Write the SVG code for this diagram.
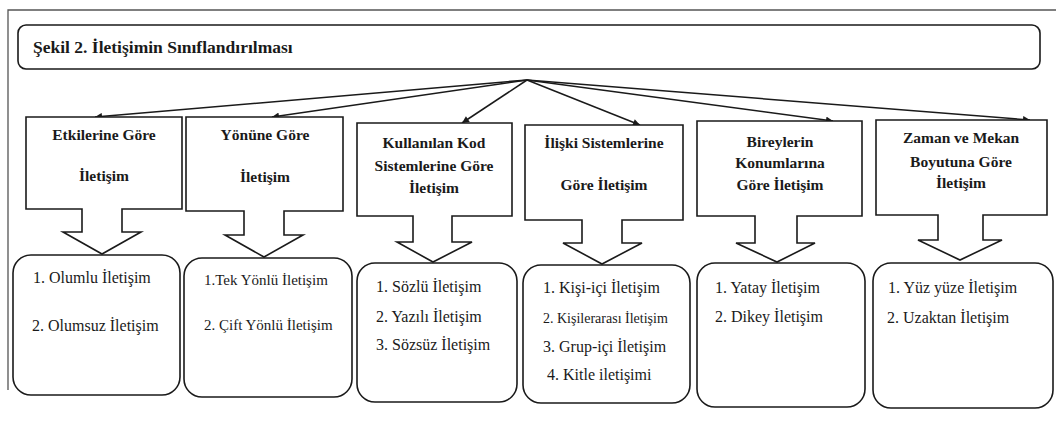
<svg xmlns="http://www.w3.org/2000/svg" width="1056" height="445" viewBox="0 0 1056 445">
<defs>
<marker id="ah" viewBox="0 0 10 10" refX="10" refY="5" markerWidth="9" markerHeight="7" markerUnits="userSpaceOnUse" orient="auto">
<path d="M0,0 L10,5 L0,10 Z" fill="#1a1a1a"/>
</marker>
<style>
.frame{fill:none;stroke:#555;stroke-width:1.3}
.box{fill:#fff;stroke:#1a1a1a;stroke-width:1.6;stroke-linejoin:miter}
.rbox{fill:#fff;stroke:#1a1a1a;stroke-width:1.6}
.conn{fill:none;stroke:#1a1a1a;stroke-width:1.5}
.h{font-family:"Liberation Serif","Times New Roman",serif;font-weight:bold;font-size:15.5px;fill:#1a1a1a;text-anchor:middle}
.t{font-family:"Liberation Serif","Times New Roman",serif;font-size:16px;fill:#1a1a1a}
.title{font-family:"Liberation Serif","Times New Roman",serif;font-weight:bold;font-size:17.5px;fill:#1a1a1a}
</style>
</defs>
<rect width="1056" height="445" fill="#fff"/>
<path class="frame" d="M1056,10 H8 V390"/>

<g id="title">
<rect class="rbox" x="18" y="25" width="1022" height="44" rx="8"/>
<text class="title" x="33" y="53">Şekil 2. İletişimin Sınıflandırılması</text>
</g>

<g id="connectors">
<line class="conn" x1="527" y1="80" x2="95" y2="117" marker-end="url(#ah)"/>
<line class="conn" x1="527" y1="80" x2="272" y2="117" marker-end="url(#ah)"/>
<line class="conn" x1="527" y1="80" x2="462" y2="123" marker-end="url(#ah)"/>
<line class="conn" x1="527" y1="80" x2="640" y2="125" marker-end="url(#ah)"/>
<line class="conn" x1="527" y1="80" x2="833" y2="121" marker-end="url(#ah)"/>
<line class="conn" x1="527" y1="80" x2="1030" y2="120" marker-end="url(#ah)"/>
</g>

<g id="n1">
<path class="box" d="M26,117 H182 V209 H122 V232 H141 L102,254 L63,232 H82 V209 H26 Z"/>
<text class="h" x="104" y="140">Etkilerine Göre</text>
<text class="h" x="104" y="181">İletişim</text>
</g>
<g id="n2">
<path class="box" d="M186,117 H343 V211 H284 V235 H303 L264,257 L225,235 H244 V211 H186 Z"/>
<text class="h" x="265" y="140">Yönüne Göre</text>
<text class="h" x="265" y="182">İletişim</text>
</g>
<g id="n3">
<path class="box" d="M357,123 H512 V216 H452 V242 H472 L433,262 L397,242 H413 V216 H357 Z"/>
<text class="h" x="434" y="148">Kullanılan Kod</text>
<text class="h" x="434" y="171">Sistemlerine Göre</text>
<text class="h" x="434" y="193">İletişim</text>
</g>
<g id="n4">
<path class="box" d="M525,125 H683 V220 H622 V243 H642 L602,264 L563,243 H582 V220 H525 Z"/>
<text class="h" x="604" y="148">İlişki Sistemlerine</text>
<text class="h" x="604" y="190">Göre İletişim</text>
</g>
<g id="n5">
<path class="box" d="M697,121 H862 V216 H797 V243 H815 L777,262 L736,243 H755 V216 H697 Z"/>
<text class="h" x="780" y="147">Bireylerin</text>
<text class="h" x="780" y="168">Konumlarına</text>
<text class="h" x="780" y="190">Göre İletişim</text>
</g>
<g id="n6">
<path class="box" d="M876,120 H1047 V215 H983 V240 H1002 L960,260 L918,240 H938 V215 H876 Z"/>
<text class="h" x="961" y="143">Zaman ve Mekan</text>
<text class="h" x="961" y="167">Boyutuna Göre</text>
<text class="h" x="961" y="188">İletişim</text>
</g>

<g id="b1">
<rect class="rbox" x="13" y="255" width="167" height="140" rx="18"/>
<text class="t" x="33" y="283">1. Olumlu İletişim</text>
<text class="t" x="32" y="331">2. Olumsuz İletişim</text>
</g>
<g id="b2">
<rect class="rbox" x="184" y="258" width="168" height="139" rx="18"/>
<text class="t" x="204" y="285" style="font-size:15px">1.Tek Yönlü  İletişim</text>
<text class="t" x="204" y="330" style="font-size:15px">2. Çift Yönlü İletişim</text>
</g>
<g id="b3">
<rect class="rbox" x="357" y="263" width="160" height="139" rx="18"/>
<text class="t" x="376" y="292">1. Sözlü İletişim</text>
<text class="t" x="376" y="322">2. Yazılı İletişim</text>
<text class="t" x="376" y="350">3. Sözsüz İletişim</text>
</g>
<g id="b4">
<rect class="rbox" x="523" y="265" width="167" height="138" rx="18"/>
<text class="t" x="543" y="293">1. Kişi-içi İletişim</text>
<text class="t" x="543" y="323" style="font-size:14px">2. Kişilerarası İletişim</text>
<text class="t" x="543" y="352">3. Grup-içi İletişim</text>
<text class="t" x="547" y="380">4. Kitle iletişimi</text>
</g>
<g id="b5">
<rect class="rbox" x="697" y="263" width="168" height="144" rx="18"/>
<text class="t" x="715" y="293">1. Yatay İletişim</text>
<text class="t" x="715" y="322">2. Dikey İletişim</text>
</g>
<g id="b6">
<rect class="rbox" x="873" y="263" width="180" height="145" rx="18"/>
<text class="t" x="888" y="293">1. Yüz yüze İletişim</text>
<text class="t" x="887" y="323">2. Uzaktan  İletişim</text>
</g>
</svg>
